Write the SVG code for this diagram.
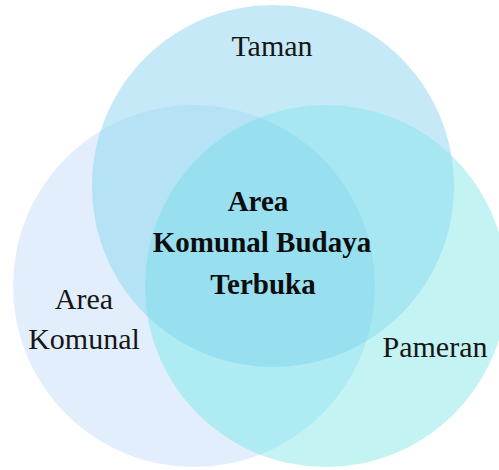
<svg xmlns="http://www.w3.org/2000/svg" width="499" height="470" viewBox="0 0 499 470">
<defs>
<style>
.lbl{font-family:"Liberation Serif","Times New Roman",serif;font-size:30px;fill:#161616;text-anchor:middle}
.ctr{font-family:"Liberation Serif","Times New Roman",serif;font-size:29px;font-weight:bold;fill:#0d0d0d;text-anchor:middle}
</style>
<clipPath id="cL"><circle cx="194" cy="286" r="181"/></clipPath>
<clipPath id="cR"><circle cx="326" cy="286" r="181"/></clipPath>
</defs>
<rect width="499" height="470" fill="#ffffff"/>
<g id="venn">
<circle id="circle-komunal" cx="194" cy="286" r="181" fill="#e2eefb"/>
<circle id="circle-pameran" cx="326" cy="286" r="181" fill="#c3f3f3"/>
<circle id="circle-taman" cx="273" cy="186" r="181" fill="#c6e9f8"/>
<circle cx="273" cy="186" r="181" fill="#b6e2f6" clip-path="url(#cL)"/>
<circle cx="273" cy="186" r="181" fill="#a6e7f1" clip-path="url(#cR)"/>
<g clip-path="url(#cR)"><circle cx="194" cy="286" r="181" fill="#afebf2"/></g>
<g clip-path="url(#cR)"><circle cx="273" cy="186" r="181" fill="#98e0ef" clip-path="url(#cL)"/></g>
</g>
<g id="labels">
<text class="lbl" x="272" y="56">Taman</text>
<text class="lbl" x="84" y="309">Area</text>
<text class="lbl" x="84" y="349">Komunal</text>
<text class="lbl" x="435" y="357">Pameran</text>
<text class="ctr" x="258" y="211">Area</text>
<text class="ctr" x="262" y="252">Komunal Budaya</text>
<text class="ctr" x="263" y="294">Terbuka</text>
</g>
</svg>
